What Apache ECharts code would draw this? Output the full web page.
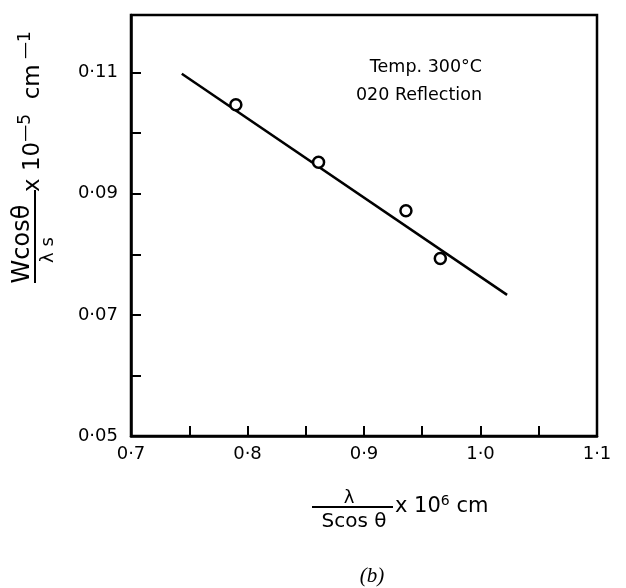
<!DOCTYPE html>
<html><head><meta charset="utf-8">
<script src="https://cdn.jsdelivr.net/npm/echarts@6/dist/echarts.min.js"></script>
<style>html,body{margin:0;padding:0;background:#fff}#c{width:626px;height:588px}</style>
</head><body><div id="c"></div>
<script>
const pointsX = [0.790, 0.861, 0.936, 0.9655];
const pointsY = [0.1047, 0.0952, 0.0872, 0.0793];
const fitX = [0.7436, 1.0228];
const fitY = [0.1098, 0.0733];
const xTickValues = [0.7, 0.8, 0.9, 1.0, 1.1];
const xTickLabels = ['0·7', '0·8', '0·9', '1·0', '1·1'];
const yTickValues = [0.05, 0.07, 0.09, 0.11];
const yTickLabels = ['0·05', '0·07', '0·09', '0·11'];
const annotations = ['Temp. 300°C', '020 Reflection'];
const caption = '(b)';

const FONT = 'DejaVu Sans';
const BLACK = '#000';
function lookup(vals, labels) {
  return function (v) {
    const i = vals.findIndex(t => Math.abs(t - v) < 1e-6);
    return i >= 0 ? labels[i] : '';
  };
}
const chart = echarts.init(document.getElementById('c'), null, {renderer: 'canvas'});
const axisCommon = {
  axisLine: {show: true, lineStyle: {color: BLACK, width: 2.5}},
  axisTick: {show: true, inside: true, length: 10, lineStyle: {color: BLACK, width: 2}},
  splitLine: {show: false},
};
chart.setOption({
  animation: false,
  backgroundColor: '#fff',
  grid: {left: 131, right: 29, top: 15, bottom: 152, show: true, borderColor: BLACK, borderWidth: 2.5, backgroundColor: 'transparent'},
  xAxis: Object.assign({
    type: 'value', min: 0.7, max: 1.1, interval: 0.05,
    axisLabel: {margin: 9, fontSize: 18, fontFamily: FONT, color: BLACK, formatter: lookup(xTickValues, xTickLabels), showMaxLabel: true, showMinLabel: true}
  }, axisCommon),
  yAxis: Object.assign({
    type: 'value', min: 0.05, max: 0.1195, interval: 0.01,
    axisLabel: {margin: 13, fontSize: 18, fontFamily: FONT, color: BLACK, formatter: lookup(yTickValues, yTickLabels)}
  }, axisCommon),
  series: [
    {type: 'line', data: fitX.map((x, i) => [x, fitY[i]]), symbol: 'none', lineStyle: {color: BLACK, width: 2.5}, z: 2},
    {type: 'scatter', data: pointsX.map((x, i) => [x, pointsY[i]]), symbol: 'circle', symbolSize: 11,
      itemStyle: {color: '#fff', borderColor: BLACK, borderWidth: 2.5, opacity: 1}, z: 3}
  ],
  graphic: [
    {type: 'text', x: 482, y: 67, style: {text: annotations[0], fontSize: 17.5, fontFamily: FONT, fill: BLACK, align: 'right', verticalAlign: 'middle'}},
    {type: 'text', x: 482, y: 95, style: {text: annotations[1], fontSize: 17.5, fontFamily: FONT, fill: BLACK, align: 'right', verticalAlign: 'middle'}},
    // x-axis name
    {type: 'text', x: 349, y: 498, style: {text: 'λ', fontSize: 18, fontFamily: FONT, fill: BLACK, align: 'center', verticalAlign: 'middle'}},
    {type: 'line', shape: {x1: 312, y1: 507, x2: 393, y2: 507}, style: {stroke: BLACK, lineWidth: 2}},
    {type: 'text', x: 354, y: 522, style: {text: 'Scos θ', fontSize: 20, fontFamily: FONT, fill: BLACK, align: 'center', verticalAlign: 'middle'}},
    {type: 'text', x: 395, y: 507, style: {
      text: '{a|x 10}{s|6}{a| cm}', align: 'left', verticalAlign: 'middle',
      rich: {a: {fontSize: 21, fontFamily: FONT, fill: BLACK}, s: {fontSize: 14, fontFamily: FONT, fill: BLACK, padding: [0, 0, 12, 0]}}
    }},
    // y-axis name
    {type: 'line', shape: {x1: 35, y1: 190, x2: 35, y2: 283}, style: {stroke: BLACK, lineWidth: 2}},
    {type: 'text', x: 23, y: 244, rotation: Math.PI / 2, style: {text: 'Wcosθ', fontSize: 24, fontFamily: FONT, fill: BLACK, align: 'center', verticalAlign: 'middle'}},
    {type: 'text', x: 48.5, y: 250, rotation: Math.PI / 2, style: {text: 'λ s', fontSize: 18, fontFamily: FONT, fill: BLACK, align: 'center', verticalAlign: 'middle'}},
    {type: 'text', x: 33, y: 192, rotation: Math.PI / 2, style: {
      text: '{a|x 10}{s|—5}{a|  cm}{s| —1}', align: 'left', verticalAlign: 'middle',
      rich: {a: {fontSize: 23, fontFamily: FONT, fill: BLACK}, s: {fontSize: 17, fontFamily: FONT, fill: BLACK, padding: [0, 0, 14, 0]}}
    }},
    {type: 'text', x: 372, y: 576, style: {text: caption, fontSize: 21, fontFamily: 'Liberation Serif', fontStyle: 'italic', fill: BLACK, align: 'center', verticalAlign: 'middle'}}
  ]
});
</script></body></html>
